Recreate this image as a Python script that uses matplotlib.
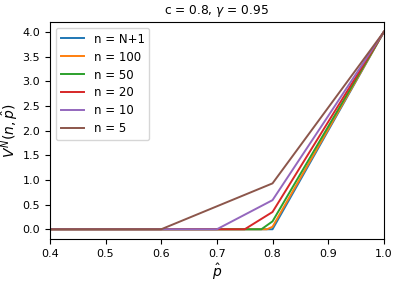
import matplotlib
matplotlib.use("Agg")
import matplotlib.pyplot as plt

# value function curves: zero until threshold, kink at p=0.8, end at 4.0
labels = ["n = N+1", "n = 100", "n = 50", "n = 20", "n = 10", "n = 5"]
p_thresh = [0.80, 0.79, 0.78, 0.75, 0.70, 0.60]
v_at_08 = [0.0, 0.05, 0.16, 0.35, 0.59, 0.93]
p_start, p_kink, p_end = 0.4, 0.8, 1.0
v_end = 4.0

fig = plt.figure(figsize=(3.99, 2.82), dpi=100)
ax = fig.add_axes([0.125, 0.152, 0.837, 0.77])

for lab, pt, v8 in zip(labels, p_thresh, v_at_08):
    if pt < p_kink:
        xs = [p_start, pt, p_kink, p_end]
        ys = [0.0, 0.0, v8, v_end]
    else:
        xs = [p_start, p_kink, p_end]
        ys = [0.0, 0.0, v_end]
    ax.plot(xs, ys, label=lab, lw=1.4)

ax.set_xlim(0.4, 1.0)
ax.set_ylim(-0.2, 4.2)
ax.set_title(r"c = 0.8, $\gamma$ = 0.95", fontsize=8.8)
ax.set_xlabel(r"$\hat{p}$", fontsize=10, labelpad=2)
ax.set_ylabel(r"$V^N(n, \hat{p})$", fontsize=10, labelpad=2)
ax.tick_params(labelsize=8)
ax.legend(loc="upper left", fontsize=8.5, labelspacing=0.42)

fig.savefig("out.png", dpi=100)
